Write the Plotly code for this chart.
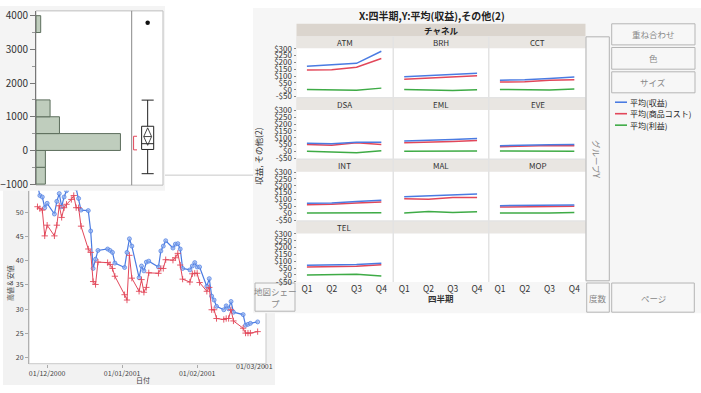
import plotly.graph_objects as go

W, H = 701, 393
FONT = "Noto Sans CJK JP, Noto Sans, sans-serif"

# ---------------- data: line chart (高値 & 安値) ----------------
dates = ['2000-11-27', '2000-11-28', '2000-11-29', '2000-11-30', '2000-12-01', '2000-12-04', '2000-12-05',
         '2000-12-06', '2000-12-07', '2000-12-08', '2000-12-09', '2000-12-11', '2000-12-12', '2000-12-13',
         '2000-12-14', '2000-12-15', '2000-12-18', '2000-12-19', '2000-12-20', '2000-12-21', '2000-12-22',
         '2000-12-26', '2000-12-27', '2000-12-28', '2000-12-29', '2001-01-02', '2001-01-03', '2001-01-04',
         '2001-01-05', '2001-01-08', '2001-01-09', '2001-01-10', '2001-01-11', '2001-01-12', '2001-01-16',
         '2001-01-17', '2001-01-18', '2001-01-19', '2001-01-22', '2001-01-23', '2001-01-24', '2001-01-25',
         '2001-01-26', '2001-01-29', '2001-01-30', '2001-01-31', '2001-02-01', '2001-02-02', '2001-02-05',
         '2001-02-06', '2001-02-07', '2001-02-08', '2001-02-09', '2001-02-12', '2001-02-13', '2001-02-14',
         '2001-02-15', '2001-02-16', '2001-02-20', '2001-02-21', '2001-02-22', '2001-02-23', '2001-02-26']
high = [55.6, 53.4, 53.1, 50.9, 51.8, 49.6, 52.2, 53.8, 51.1, 53.1, 54.4, 56.5, 57.0, 54.8, 52.8, 50.4,
        50.3, 46.1, 38.4, 40.3, 42.1, 42.4, 42.1, 41.7, 39.5, 38.6, 41.7, 44.5, 43.0, 36.5, 38.9, 37.9,
        39.7, 39.9, 38.7, 42.0, 43.0, 44.1, 42.6, 43.4, 43.5, 42.4, 38.4, 38.1, 38.9, 39.6, 38.7, 38.7,
        34.7, 36.3, 32.7, 31.9, 30.6, 29.9, 30.7, 30.1, 31.6, 29.4, 28.9, 26.7, 26.9, 27.1, 27.4]
low = [51.1, 50.7, 50.4, 45.1, 47.3, 45.1, 47.3, 51.3, 48.9, 50.9, 51.6, 52.6, 53.4, 50.9, 50.9, 47.1,
       42.4, 41.7, 35.7, 35.1, 39.7, 39.6, 39.2, 38.4, 36.8, 33.0, 31.9, 41.1, 36.4, 33.7, 36.1, 33.5,
       34.5, 37.5, 37.4, 38.4, 38.4, 40.2, 40.1, 40.6, 41.5, 39.1, 36.2, 35.6, 37.3, 37.4, 37.4, 35.5,
       33.7, 34.5, 29.9, 29.9, 28.1, 27.9, 28.1, 28.1, 29.9, 27.6, 26.1, 25.1, 25.1, 25.1, 25.4]
date_ticks = ['2000-12-01', '2001-01-01', '2001-02-01', '2001-03-01']
date_labels = ['01/12/2000', '01/01/2001', '01/02/2001', '01/03/2001']
price_ticks = [20, 25, 30, 35, 40, 45, 50]

# ---------------- data: distribution ----------------
bin_centers = [-750, -250, 250, 750, 1250, 3750]
bin_counts = [2, 2, 18, 5, 3, 1]
dist_ticks = [-1000, 0, 1000, 2000, 3000, 4000]
box_q1, box_median, box_q3 = 29, 200, 718
box_lower, box_upper = -690, 1494
outliers = [3790]
mean_val, mean_lo, mean_hi = 412, 152, 672
short_lo, short_hi = 17, 421

# ---------------- data: graph builder ----------------
quarters = ['Q1', 'Q2', 'Q3', 'Q4']
channels = ['ATM', 'BRH', 'CCT', 'DSA', 'EML', 'EVE', 'INT', 'MAL', 'MOP', 'TEL']
revenue = [[172, 183, 193, 281], [95, 102, 110, 121], [70, 73, 82, 93], [61, 56, 68, 68], [76, 80, 88, 95],
           [42, 47, 49, 51], [72, 75, 85, 95], [121, 126, 133, 140], [55, 55, 57, 60], [70, 72, 77, 86]]
cost = [[144, 147, 165, 228], [77, 84, 93, 102], [56, 58, 70, 74], [51, 46, 63, 51], [63, 66, 73, 80],
        [35, 39, 44, 42], [62, 65, 75, 82], [105, 102, 114, 114], [45, 45, 48, 50], [58, 58, 63, 75]]
profit = [[1, 0, -4, 12], [1, -2, -6, 0], [2, 0, -2, 5], [1, -4, -9, 6], [1, 1, 2, 3],
          [3, 3, 1, 1], [2, 2, 2, 3], [2, 12, 5, 10], [2, 0, 2, 5], [0, 2, 5, -7]]
money_ticks = [-50, 0, 50, 100, 150, 200, 250, 300]
money_labels = ['-$50', '$0', '$50', '$100', '$150', '$200', '$250', '$300']
series_names = ['平均(収益)', '平均(商品コスト)', '平均(利益)']
series_colors = ['#4a7be2', '#e2475a', '#3eab46']

# ---------------- helpers ----------------
shapes, annotations = [], []


def X(x):
    return x / W


def Y(y):
    return 1 - y / H


def rect(x0, y0, x1, y1, fill, line=None, lw=1):
    shapes.append(dict(type='rect', xref='paper', yref='paper', x0=X(x0), x1=X(x1), y0=Y(y1), y1=Y(y0),
                       fillcolor=fill, layer='below',
                       line=dict(color=line if line else 'rgba(0,0,0,0)', width=lw if line else 0)))


def seg(x0, y0, x1, y1, color, lw=1):
    shapes.append(dict(type='line', xref='paper', yref='paper', x0=X(x0), x1=X(x1), y0=Y(y0), y1=Y(y1),
                       line=dict(color=color, width=lw), layer='below'))


def text(x, y, s, size=8, color='#333', bold=False, angle=0, xanchor='center', yanchor='middle'):
    annotations.append(dict(xref='paper', yref='paper', x=X(x), y=Y(y), text=f'<b>{s}</b>' if bold else s,
                            showarrow=False, font=dict(size=size, color=color, family=FONT),
                            textangle=angle, xanchor=xanchor, yanchor=yanchor, borderpad=0))


traces = []
layout = dict(width=W, height=H, margin=dict(l=0, r=0, t=0, b=0), paper_bgcolor='white',
              plot_bgcolor='rgba(0,0,0,0)', showlegend=False, font=dict(family=FONT))

# ---------------- line chart window ----------------
rect(3, 174, 275, 390, '#f2f2f2')
rect(29, 174, 266, 368, 'white', '#c9c9c9')
traces.append(go.Scatter(x=dates, y=high, mode='lines+markers', xaxis='x', yaxis='y',
                         line=dict(color='#4a7be2', width=1.2),
                         marker=dict(symbol='circle', size=4, color='rgba(150,180,240,0.7)',
                                     line=dict(color='#4a7be2', width=0.7))))
traces.append(go.Scatter(x=dates, y=low, mode='lines+markers', xaxis='x', yaxis='y',
                         line=dict(color='#e2475a', width=1.0),
                         marker=dict(symbol='cross-thin', size=4.5, line=dict(color='#e2475a', width=0.9))))
layout['xaxis'] = dict(domain=[X(29), X(266)], anchor='y', type='date',
                       range=['2000-11-23 12:00', '2001-03-01 10:50'], showgrid=False, zeroline=False,
                       showline=False, ticks='outside', ticklen=3, tickcolor='#aaa',
                       tickvals=date_ticks, ticktext=date_labels[:3] + [''],
                       tickfont=dict(size=7, color='#444'))
layout['yaxis'] = dict(domain=[Y(368), Y(190)], anchor='x', range=[18.8, 54.4], showgrid=False,
                       zeroline=False, showline=True, linecolor='#b0b0b0', ticks='outside', ticklen=3,
                       tickcolor='#aaa', tickvals=price_ticks, tickfont=dict(size=7, color='#444'))
annotations.append(dict(xref='x', yref='paper', x=date_ticks[3], y=Y(378), text=date_labels[3],
                        showarrow=False, xshift=-10, font=dict(size=7, color='#444', family=FONT)))
text(10, 285, '高値 & 安値', size=7, color='#444', angle=-90)
text(143, 385, '日付', size=7, color='#444')

# ---------------- distribution window ----------------
rect(0, 0, 165, 190, '#f4f4f4')
rect(36, 5, 163, 184.3, 'white', '#bdbdbd')
seg(131.7, 5, 131.7, 184.3, '#888')
traces.append(go.Bar(x=bin_counts, y=bin_centers, orientation='h', width=500, xaxis='x2', yaxis='y2',
                     marker=dict(color='#bfcdbd', line=dict(color='#5d6e5d', width=1))))
layout['xaxis2'] = dict(domain=[X(36), X(131.7)], anchor='y2', range=[0, 20.4], visible=False)
layout['yaxis2'] = dict(domain=[Y(184.3), Y(5)], anchor='x2', range=[-1030, 4143], showgrid=False,
                        zeroline=False, showline=True, linecolor='#777', ticks='outside', ticklen=5,
                        tickcolor='#777', tickvals=dist_ticks, tickfont=dict(size=10, color='#333'),
                        minor=dict(dtick=500, tick0=0, ticks='outside', ticklen=3, tickcolor='#999',
                                   showgrid=False))
traces.append(go.Box(x=[0], q1=[box_q1], median=[box_median], q3=[box_q3], lowerfence=[box_lower],
                     upperfence=[box_upper], width=0.77, whiskerwidth=1, fillcolor='white',
                     line=dict(color='#222', width=1), boxpoints=False, xaxis='x3', yaxis='y3'))
traces.append(go.Scatter(x=[0] * len(outliers), y=outliers, mode='markers', xaxis='x3', yaxis='y3',
                         marker=dict(color='#111', size=4.5)))
traces.append(go.Scatter(x=[-0.25, 0, 0.25, 0, -0.25, 0.25], y=[mean_val, mean_hi, mean_val, mean_lo, mean_val, mean_val],
                         mode='lines', xaxis='x3', yaxis='y3', line=dict(color='#333', width=0.9)))
traces.append(go.Scatter(x=[-0.68, -0.9, -0.9, -0.68], y=[short_hi, short_hi, short_lo, short_lo],
                         mode='lines', xaxis='x3', yaxis='y3', line=dict(color='#e2475a', width=1)))
layout['xaxis3'] = dict(domain=[X(131.7), X(163)], anchor='y3', range=[-1.02, 0.98], visible=False)
layout['yaxis3'] = dict(domain=[Y(184.3), Y(5)], anchor='x3', range=[-1030, 4143], visible=False)

# ---------------- graph builder window ----------------
rect(253, 2, 701, 316, '#f6f6f6')
text(432, 9.5, 'X:四半期,Y:平均(収益),その他(2)', size=10, color='#222', bold=True)
rect(296.5, 18.3, 585.5, 31.3, '#dbd5ce')
text(441, 24.8, 'チャネル', size=8.5, color='#222', bold=True)
rect(296.5, 31.3, 585.5, 284, '#e3e3e3')

col_x = [(296.5, 392.5), (394, 488), (489.5, 585.5)]
row_top = [31.5, 95, 158.5, 222]
for r in range(4):
    for c in range(3):
        k = r * 3 + c
        idx = 4 + k
        cx0, cx1 = col_x[c]
        hy = row_top[r]
        rect(cx0, hy, cx1, hy + 12, '#e9e6e2')
        rect(cx0, hy + 12, cx1, hy + 62, 'white')
        xa, ya = f'x{idx}', f'y{idx}'
        if k < len(channels):
            text((cx0 + cx1) / 2, hy + 6, channels[k], size=8, color='#333')
            for vals, col in zip([profit[k], cost[k], revenue[k]], series_colors[::-1]):
                traces.append(go.Scatter(x=quarters, y=vals, mode='lines', xaxis=xa, yaxis=ya,
                                         line=dict(color=col, width=1.5)))
        else:
            traces.append(go.Scatter(x=[], y=[], xaxis=xa, yaxis=ya))
        layout[f'xaxis{idx}'] = dict(domain=[X(cx0), X(cx1)], anchor=ya, type='category',
                                     categoryorder='array', categoryarray=quarters, range=[-0.42, 3.45],
                                     showgrid=False, zeroline=False, showline=False, ticks='',
                                     showticklabels=(r == 3), tickfont=dict(size=8.5, color='#333'))
        layout[f'yaxis{idx}'] = dict(domain=[Y(hy + 62), Y(hy + 12)], anchor=xa, range=[-52, 303],
                                     showgrid=False, zeroline=False, showline=False,
                                     ticks='outside' if c == 0 else '', ticklen=2, tickcolor='#888',
                                     tickvals=money_ticks, ticktext=money_labels,
                                     showticklabels=(c == 0), tickfont=dict(size=8, color='#333'))

text(258.5, 154.5, '収益, その他(2)', size=8.5, color='#333', angle=-90)
text(440.5, 300, '四半期', size=8.5, color='#333', bold=True)

# drop zones / buttons
rect(586, 31.7, 609.3, 282.7, '#f7f7f7', '#b3b3b3')
text(597.5, 157, 'グループY', size=8.5, color='#888', angle=90)
for (x0, y0, x1, y1, lab) in [(611.7, 18.3, 695, 40, '重ね合わせ'), (611.7, 42.7, 695, 65, '色'),
                              (611.7, 67.7, 695, 89.3, 'サイズ'), (611.7, 285, 694.3, 315, 'ページ'),
                              (586.7, 285, 609.3, 315, '度数')]:
    rect(x0, y0, x1, y1, '#f7f7f7', '#b5b5b5')
    text((x0 + x1) / 2, (y0 + y1) / 2, lab, size=8.5, color='#888')
rect(255, 285, 295, 314, '#f7f7f7', '#b5b5b5')
text(275, 293, '地図シェー', size=8.5, color='#888')
text(275, 306, 'プ', size=8.5, color='#888')

# legend
for i, (nm, col) in enumerate(zip(series_names, series_colors)):
    ly = 99 + i * 11.8
    seg(615, ly, 627, ly, col, 1.6)
    text(628.5, ly, nm, size=8, color='#222', xanchor='left')

layout['shapes'] = shapes
layout['annotations'] = annotations
fig = go.Figure(data=traces, layout=layout)
fig.write_html('out.html', config={'displayModeBar': False},
               post_script="document.body.style.margin='0px';")
